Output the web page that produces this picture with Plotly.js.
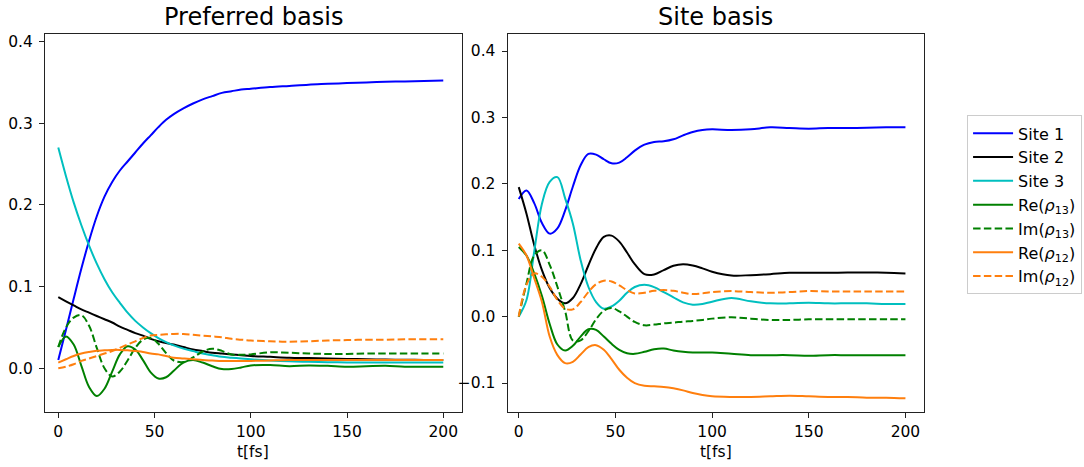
<!DOCTYPE html>
<html>
<head>
<meta charset="utf-8">
<script src="https://cdn.plot.ly/plotly-3.0.1.min.js"></script>
<style>html,body{margin:0;padding:0;background:#fff;}#chart{width:1084px;height:467px;}</style>
</head>
<body>
<div id="chart"></div>
<script>
// time axis (fs)
const t = [0,4,8,12,16,20,24,28,32,36,40,44,48,52,56,60,65,70,75,80,85,90,95,100,110,120,130,140,150,160,170,180,190,200];

// Preferred basis
const pbSite1 = [0.010,0.047,0.085,0.122,0.156,0.186,0.210,0.228,0.242,0.253,0.264,0.275,0.285,0.295,0.304,0.311,0.318,0.324,0.329,0.333,0.337,0.339,0.341,0.342,0.344,0.3455,0.347,0.348,0.349,0.3497,0.3505,0.351,0.3515,0.352];
const pbSite2 = [0.087,0.082,0.077,0.072,0.068,0.064,0.060,0.056,0.051,0.047,0.043,0.040,0.036,0.033,0.031,0.029,0.026,0.023,0.021,0.019,0.018,0.017,0.016,0.015,0.014,0.013,0.0125,0.012,0.0115,0.011,0.0107,0.0104,0.0102,0.010];
const pbSite3 = [0.270,0.235,0.203,0.175,0.150,0.128,0.109,0.093,0.080,0.068,0.058,0.050,0.043,0.037,0.032,0.028,0.024,0.021,0.018,0.016,0.014,0.013,0.012,0.011,0.0095,0.0085,0.008,0.0075,0.0072,0.007,0.007,0.007,0.007,0.007];
const pbRe13 = [0.026,0.039,0.029,0.003,-0.023,-0.034,-0.025,-0.004,0.017,0.027,0.023,0.010,-0.005,-0.0125,-0.011,-0.003,0.007,0.010,0.007,0.0025,-0.001,-0.001,0.001,0.0035,0.004,0.0025,0.0035,0.003,0.002,0.0025,0.003,0.002,0.002,0.002];
const pbIm13 = [0.026,0.050,0.062,0.065,0.052,0.025,0.000,-0.010,-0.004,0.0095,0.025,0.035,0.037,0.030,0.0186,0.0095,0.0076,0.0132,0.0205,0.024,0.0213,0.0168,0.0165,0.017,0.0195,0.019,0.018,0.0175,0.0175,0.018,0.018,0.018,0.018,0.018];
const pbRe12 = [0.007,0.011,0.015,0.018,0.020,0.0215,0.022,0.0225,0.0225,0.022,0.021,0.020,0.018,0.017,0.015,0.013,0.012,0.011,0.010,0.0095,0.009,0.009,0.009,0.009,0.0095,0.010,0.010,0.010,0.010,0.010,0.010,0.010,0.010,0.010];
const pbIm12 = [0.000,0.002,0.005,0.009,0.012,0.015,0.018,0.021,0.025,0.029,0.033,0.037,0.040,0.041,0.0415,0.042,0.042,0.041,0.040,0.039,0.038,0.036,0.035,0.034,0.033,0.0325,0.033,0.034,0.0345,0.035,0.035,0.0355,0.0355,0.0355];

// Site basis
const sbSite1 = [0.177,0.190,0.171,0.141,0.125,0.133,0.160,0.196,0.228,0.245,0.244,0.237,0.231,0.232,0.240,0.250,0.259,0.263,0.264,0.267,0.273,0.278,0.281,0.282,0.281,0.282,0.285,0.284,0.283,0.284,0.284,0.2845,0.285,0.285];
const sbSite2 = [0.195,0.155,0.108,0.070,0.043,0.027,0.020,0.028,0.049,0.077,0.103,0.120,0.122,0.113,0.0965,0.079,0.064,0.0635,0.070,0.0767,0.079,0.077,0.0727,0.0677,0.062,0.0625,0.064,0.066,0.066,0.066,0.0665,0.0665,0.066,0.065];
const sbSite3 = [0.000,0.025,0.098,0.170,0.203,0.210,0.178,0.140,0.085,0.045,0.022,0.012,0.0154,0.024,0.036,0.0446,0.048,0.0445,0.037,0.029,0.0215,0.018,0.019,0.0225,0.028,0.023,0.020,0.020,0.021,0.020,0.020,0.020,0.019,0.019];
const sbRe13 = [0.105,0.092,0.065,0.031,-0.011,-0.042,-0.051,-0.044,-0.030,-0.019,-0.020,-0.030,-0.041,-0.050,-0.055,-0.056,-0.053,-0.049,-0.048,-0.051,-0.053,-0.054,-0.054,-0.054,-0.056,-0.058,-0.058,-0.058,-0.059,-0.058,-0.058,-0.058,-0.058,-0.058];
const sbIm13 = [0.000,0.050,0.092,0.100,0.078,0.045,0.008,-0.036,-0.0356,-0.022,-0.004,0.009,0.013,0.008,0.000,-0.008,-0.013,-0.012,-0.010,-0.009,-0.0075,-0.0065,-0.005,-0.003,-0.001,-0.003,-0.005,-0.005,-0.004,-0.004,-0.004,-0.004,-0.004,-0.004];
const sbRe12 = [0.110,0.092,0.058,0.022,-0.030,-0.058,-0.070,-0.068,-0.057,-0.046,-0.043,-0.050,-0.064,-0.080,-0.092,-0.100,-0.104,-0.105,-0.106,-0.108,-0.111,-0.115,-0.118,-0.120,-0.121,-0.121,-0.120,-0.119,-0.120,-0.121,-0.121,-0.122,-0.122,-0.123];
const sbIm12 = [0.000,0.048,0.065,0.060,0.045,0.025,0.012,0.011,0.022,0.037,0.049,0.054,0.053,0.047,0.040,0.035,0.036,0.039,0.040,0.039,0.036,0.034,0.035,0.037,0.0385,0.037,0.036,0.037,0.0385,0.038,0.038,0.038,0.038,0.038];

const seriesNames = ["Site 1","Site 2","Site 3","Re(<i>ρ</i><sub>13</sub>)","Im(<i>ρ</i><sub>13</sub>)","Re(<i>ρ</i><sub>12</sub>)","Im(<i>ρ</i><sub>12</sub>)"];
const leftData = [pbSite1,pbSite2,pbSite3,pbRe13,pbIm13,pbRe12,pbIm12];
const rightData = [sbSite1,sbSite2,sbSite3,sbRe13,sbIm13,sbRe12,sbIm12];

const colors = ["#0000ff","#000000","#00bfbf","#008000","#008000","#ff7f0e","#ff7f0e"];
const dashes = ["solid","solid","solid","solid","7.5px,3.3px","solid","7.5px,3.3px"];

const traces = [];
function addPanel(data, xa, ya, showLeg) {
  data.forEach((ys, i) => {
    traces.push({
      x: t, y: ys, xaxis: xa, yaxis: ya,
      type: "scatter", mode: "lines",
      name: seriesNames[i], legendgroup: "g" + i, showlegend: showLeg,
      line: {color: colors[i], width: 2, dash: dashes[i], shape: "spline", smoothing: 1}
    });
  });
}
addPanel(leftData, "x", "y", true);
addPanel(rightData, "x2", "y2", false);

const FAM = "DejaVu Sans, sans-serif";
const axCommon = {
  showgrid: false, zeroline: false, showline: true, mirror: true,
  linecolor: "#222", linewidth: 1, ticks: "outside", ticklen: 5, tickwidth: 1,
  tickcolor: "#222", tickfont: {family: FAM, size: 15.5, color: "#000"}
};

const layout = {
  width: 1084, height: 467,
  margin: {l: 45, r: 160, t: 34, b: 55, autoexpand: false},
  paper_bgcolor: "#fff", plot_bgcolor: "#fff",
  font: {family: FAM, size: 15.5, color: "#000"},
  showlegend: true,
  legend: {
    x: 1.049, xanchor: "left", y: 0.548, yanchor: "middle",
    bordercolor: "#cccccc", borderwidth: 1, bgcolor: "#fff",
    font: {family: FAM, size: 16, color: "#000"},
    itemwidth: 40, tracegroupgap: 0
  },
  xaxis: Object.assign({}, axCommon, {domain: [0, 0.4739], range: [-6.9, 209.5], tickvals: [0,50,100,150,200], anchor: "y"}),
  yaxis: Object.assign({}, axCommon, {range: [-0.0535, 0.409], tickvals: [0,0.1,0.2,0.3,0.4], tickformat: ".1f", anchor: "x", ticklabelstandoff: 3}),
  xaxis2: Object.assign({}, axCommon, {domain: [0.5262, 1], range: [-5.8, 209.6], tickvals: [0,50,100,150,200], anchor: "y2"}),
  yaxis2: Object.assign({}, axCommon, {range: [-0.1436, 0.4256], tickvals: [-0.1,0,0.1,0.2,0.3,0.4], tickformat: ".1f", anchor: "x2", ticklabelstandoff: 3}),
  annotations: [
    {text: "Preferred basis", xref: "x domain", yref: "paper", x: 0.5, y: 1, yanchor: "middle", yshift: 17, showarrow: false, font: {family: FAM, size: 24, color: "#000"}},
    {text: "Site basis", xref: "x2 domain", yref: "paper", x: 0.5, y: 1, yanchor: "middle", yshift: 17, showarrow: false, font: {family: FAM, size: 24, color: "#000"}},
    {text: "t[fs]", xref: "x domain", yref: "paper", x: 0.5, y: 0, yanchor: "middle", yshift: -40, showarrow: false, font: {family: FAM, size: 15.5, color: "#000"}},
    {text: "t[fs]", xref: "x2 domain", yref: "paper", x: 0.5, y: 0, yanchor: "middle", yshift: -40, showarrow: false, font: {family: FAM, size: 15.5, color: "#000"}}
  ]
};

Plotly.newPlot("chart", traces, layout, {displayModeBar: false, staticPlot: true});
</script>
</body>
</html>
